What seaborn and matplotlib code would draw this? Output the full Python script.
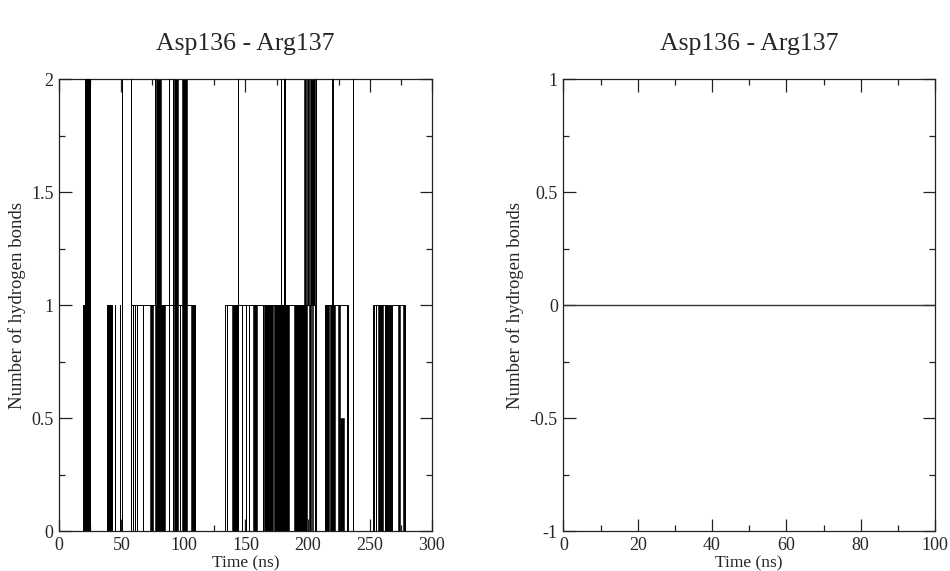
import matplotlib
matplotlib.use("Agg")
import matplotlib.pyplot as plt
import pandas as pd
import seaborn as sns
from matplotlib.ticker import MultipleLocator, FuncFormatter

# ---------------- data ----------------
title = "Asp136 - Arg137"
xlabel = "Time (ns)"
ylabel = "Number of hydrogen bonds"

# left panel: transitions of the hydrogen-bond count (value holds until next time)
hb_time = [0, 19.4, 19.9, 20.0, 20.4, 20.5, 21.0, 24.9,
           38.2, 42.7, 45.0, 45.15, 48.9, 49.05, 50.4, 50.55, 50.7, 50.85,
           58.0, 58.15, 59.4, 59.55, 60.7, 60.85, 62.3, 62.45, 67.4, 67.55,
           77.0, 77.15, 88.1, 88.25, 88.6, 88.75, 91.3, 91.45, 91.6,
           97.0, 97.15, 109.6,
           133.5, 134.9, 135.05, 143.6, 143.75, 143.9, 147.2, 147.35,
           150.4, 150.55, 152.6, 152.75, 163.9, 164.05,
           178.6, 178.75, 181.2, 181.35, 181.7, 181.85,
           206.2, 206.35, 206.8, 206.95,
           214.3, 220.0, 220.15, 220.3, 220.45, 231.5, 231.65, 232.8,
           236.3, 236.45,
           252.7, 253.5, 253.65, 254.9, 255.05, 262.0, 262.15, 263.0, 263.15,
           264.0, 264.15, 265.2, 265.35, 266.5, 266.65, 267.5, 267.65,
           278.5, 300.0]
hb_count = [0, 1, 0, 1, 0, 1, 2, 0,
            1, 0, 1, 0, 1, 0, 1, 2, 1, 0,
            2, 1, 0, 1, 0, 1, 0, 1, 0, 1,
            2, 1, 0, 1, 2, 1, 0, 2, 1,
            0, 1, 0,
            1, 0, 1, 0, 2, 1, 0, 1,
            0, 1, 0, 1, 0, 1,
            2, 1, 2, 1, 2, 1,
            0, 1, 2, 0,
            1, 2, 1, 2, 1, 0, 1, 0,
            2, 0,
            1, 0, 1, 0, 1, 0, 1, 0, 1,
            0, 1, 0, 1, 0, 1, 0, 1,
            0, 0]

# periods of very rapid switching (appear as solid black)
dense_start = [21.0, 38.2, 73.3, 77.3, 78.2, 92.6, 98.8, 106.3,
               139.1, 156.3, 165.2, 173.2, 189.3, 197.4, 199.8, 202.0,
               201.4, 203.8, 214.3, 218.3, 224.8, 226.3, 256.7, 273.0, 277.0]
dense_end = [24.9, 42.7, 75.5, 84.9, 81.8, 95.4, 102.8, 109.6,
             143.6, 159.0, 171.9, 185.3, 199.5, 198.8, 201.4, 205.8,
             202.5, 204.6, 217.3, 222.3, 226.3, 229.3, 261.0, 274.5, 278.5]
dense_low = [0, 0, 0, 0, 1, 0, 0, 0,
             0, 0, 0, 0, 0, 1, 1, 1,
             0, 0, 0, 0, 0, 0, 0, 0, 0]
dense_high = [2, 1, 1, 1, 2, 2, 2, 1,
              1, 1, 1, 1, 1, 2, 2, 2,
              1, 1, 1, 1, 1, 0.5, 1, 1, 1]

# right panel: no hydrogen bonds at all
right_time = [0, 100]
right_count = [0, 0]

# ---------------- style ----------------
sns.set_style("ticks")
plt.rcParams["font.family"] = ["Liberation Serif", "DejaVu Serif"]
plt.rcParams["axes.unicode_minus"] = False

fig = plt.figure(figsize=(9.5, 5.71), dpi=100)
axL = fig.add_axes([0.0624, 0.0700, 0.3920, 0.7916])
axR = fig.add_axes([0.5930, 0.0700, 0.3913, 0.7916])

# expand transitions into a step path
step_t, step_v = [], []
prev = None
for t, v in zip(hb_time, hb_count):
    if prev is not None:
        step_t.append(t)
        step_v.append(prev)
    step_t.append(t)
    step_v.append(v)
    prev = v
dfL = pd.DataFrame({"time": step_t, "count": step_v})

for s, e, lo, hi in zip(dense_start, dense_end, dense_low, dense_high):
    axL.fill_between([s, e], [lo, lo], [hi, hi], color="black", lw=0.4,
                     edgecolor="black", zorder=2)

sns.lineplot(data=dfL, x="time", y="count", sort=False, estimator=None,
             color="black", lw=0.7, ax=axL, zorder=3)

dfR = pd.DataFrame({"time": right_time, "count": right_count})
sns.lineplot(data=dfR, x="time", y="count", sort=False, estimator=None,
             color="#333333", lw=1.0, ax=axR)

fmt = FuncFormatter(lambda v, _: f"{v:g}")

for ax, xl, xmaj, xmin, yl, ylab_x in [
        (axL, (0, 300), 50, 25, (0, 2), -0.090),
        (axR, (0, 100), 20, 10, (-1, 1), -0.106)]:
    ax.set_xlim(*xl)
    ax.set_ylim(*yl)
    ax.xaxis.set_major_locator(MultipleLocator(xmaj))
    ax.xaxis.set_minor_locator(MultipleLocator(xmin))
    ax.yaxis.set_major_locator(MultipleLocator(0.5))
    ax.yaxis.set_minor_locator(MultipleLocator(0.25))
    ax.xaxis.set_major_formatter(fmt)
    ax.yaxis.set_major_formatter(fmt)
    ax.tick_params(which="both", direction="in", top=True, right=True,
                   width=0.9, color="#222222")
    ax.tick_params(which="major", length=9, labelsize=13, pad=4)
    ax.tick_params(which="minor", length=4.5)
    for sp in ax.spines.values():
        sp.set_visible(True)
        sp.set_linewidth(0.9)
        sp.set_color("#222222")
    ax.set_xlabel(xlabel, fontsize=12.5, labelpad=0)
    ax.set_ylabel(ylabel, fontsize=13.5)
    ax.yaxis.set_label_coords(ylab_x, 0.5)
    ax.xaxis.set_label_coords(0.5, -0.055)
    ax.set_title(title, fontsize=18.5, pad=21)

fig.savefig("out.png", dpi=100)
